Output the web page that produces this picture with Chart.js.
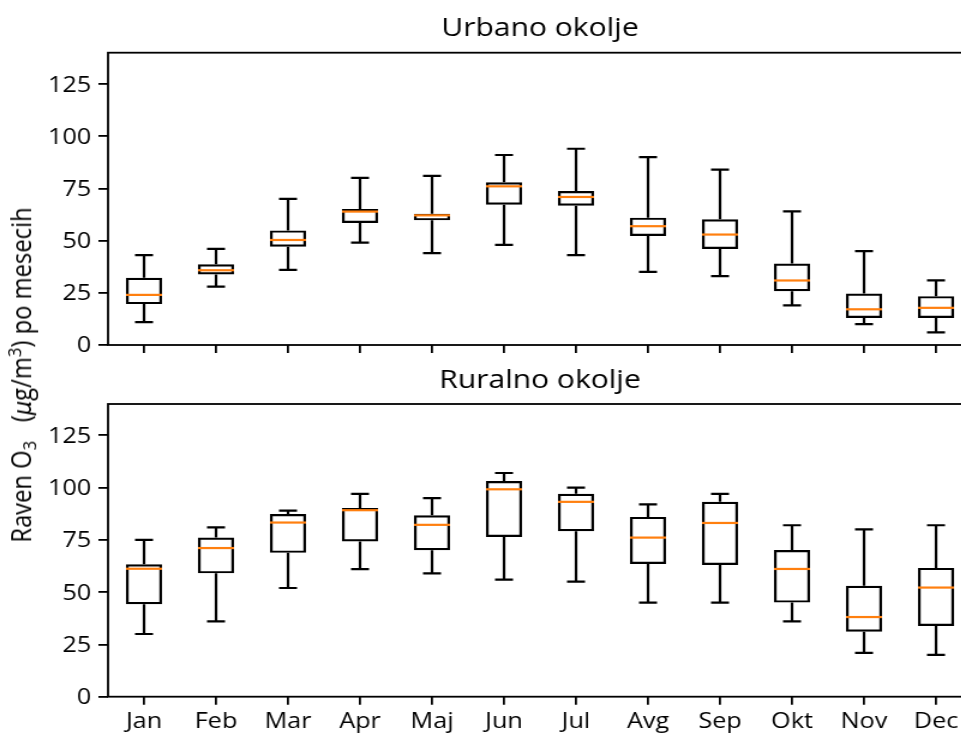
<!DOCTYPE html>
<html><head><meta charset="utf-8">
<script src="https://cdn.jsdelivr.net/npm/chart.js"></script>
<style>
html,body{margin:0;padding:0;background:#fff;overflow:hidden;width:961px;height:736px;}
#wrap{position:absolute;left:0;top:0;width:810px;height:736px;transform:scaleX(1.2);transform-origin:0 0;}
#c1{position:absolute;left:0;top:0;}
#c2{position:absolute;left:0;top:360px;}
#ylab{position:absolute;font-family:'Open Sans';font-size:22px;line-height:22px;white-space:nowrap;color:#000;
 left:18.3px;top:375px;transform:translate(-50%,-50%) rotate(-90deg) scaleX(1.08);}
#ylab sub{font-size:15.5px;line-height:0;vertical-align:-4px;}
#ylab sup{font-size:15.5px;line-height:0;vertical-align:8px;}
#ylab .mu{font-family:'DejaVu Sans';font-style:italic;font-size:21px;}
</style></head>
<body>
<div id="wrap">
<canvas id="c1" width="810" height="380"></canvas>
<canvas id="c2" width="810" height="376"></canvas>
<div id="ylab">Raven O<sub>3</sub>&nbsp;&nbsp; (<span class="mu">μ</span>g/m<sup>3</sup>) po mesecih</div>
</div>
<script>
const months = ['Jan','Feb','Mar','Apr','Maj','Jun','Jul','Avg','Sep','Okt','Nov','Dec'];
const yTicks = [0,25,50,75,100,125];

const urbMin = [11,28,36,49,44,48,43,35,33,19,10,6];
const urbQ1  = [19.6,33.8,47.1,58.4,59.7,67.2,66.7,52.2,46,25.8,12.9,12.9];
const urbMed = [24,35.8,50.3,63.9,62.1,76,70.9,56.9,52.9,30.9,17.1,17.8];
const urbQ3  = [32.2,38.7,54.9,65.1,62.9,77.9,73.7,61,60.2,39,24.7,23.4];
const urbMax = [43,46,70,80,81,91,94,90,84,64,45,31];

const rurMin = [30,36,52,61,59,56,55,45,45,36,21,20];
const rurQ1  = [44.2,59,68.8,74.2,70.1,76.4,79.1,63.5,63,45,31.1,33.8];
const rurMed = [61.2,71.1,83.3,89.2,82.2,99.2,93.2,76.1,83.1,61.1,38.1,52.2];
const rurQ3  = [63.3,76.1,87.4,90.3,86.8,103.2,97.1,86,93.2,70.2,53.1,61.6];
const rurMax = [75,81,89,97,95,107,100,92,97,82,80,82];

Chart.defaults.font.family = "'Open Sans'";
Chart.defaults.color = '#000';

function makeBoxPlugin(title, mins, q1, med, q3, maxs){
  return {
    id: 'boxWhisk',
    afterDatasetsDraw(chart){
      const {ctx, scales:{x, y}} = chart;
      const bars = chart.getDatasetMeta(0).data;
      ctx.save();
      ctx.lineCap = 'butt';
      months.forEach((m, i) => {
        const px = x.getPixelForValue(i);
        const half = bars[i].width / 2;
        const cap = half / 2;
        const yMin = y.getPixelForValue(mins[i]);
        const yMax = y.getPixelForValue(maxs[i]);
        const yQ1 = y.getPixelForValue(q1[i]);
        const yQ3 = y.getPixelForValue(q3[i]);
        const yMed = y.getPixelForValue(med[i]);
        ctx.strokeStyle = '#000';
        ctx.lineWidth = 2.2;
        ctx.beginPath();
        ctx.moveTo(px, yQ1); ctx.lineTo(px, yMin);
        ctx.moveTo(px, yQ3); ctx.lineTo(px, yMax);
        ctx.moveTo(px - cap, yMin); ctx.lineTo(px + cap, yMin);
        ctx.moveTo(px - cap, yMax); ctx.lineTo(px + cap, yMax);
        ctx.stroke();
        ctx.strokeStyle = '#ff7f0e';
        ctx.beginPath();
        ctx.moveTo(px - half, yMed); ctx.lineTo(px + half, yMed);
        ctx.stroke();
      });
      ctx.restore();
    },
    afterDraw(chart){
      const {ctx, chartArea:a} = chart;
      ctx.save();
      ctx.strokeStyle = '#000';
      ctx.lineWidth = 1.8;
      ctx.strokeRect(a.left, a.top, a.right - a.left, a.bottom - a.top);
      ctx.fillStyle = '#000';
      ctx.font = "25px 'Open Sans'";
      ctx.textAlign = 'center';
      ctx.textBaseline = 'alphabetic';
      ctx.fillText(title, (a.left + a.right) / 2, a.top - 16.5);
      ctx.restore();
    }
  };
}

function makeChart(id, title, showX, padTop, xHeight, mins, q1, med, q3, maxs){
  return new Chart(document.getElementById(id), {
    type: 'bar',
    data: {
      labels: months,
      datasets: [{
        data: q1.map((v, i) => [v, q3[i]]),
        backgroundColor: 'rgba(0,0,0,0)',
        borderColor: '#000',
        borderWidth: 2.2,
        borderSkipped: false,
        barPercentage: 0.5,
        categoryPercentage: 1
      }]
    },
    options: {
      responsive: false,
      animation: false,
      devicePixelRatio: 1,
      layout: {padding: {top: padTop, left: 0, right: 0, bottom: 0}},
      plugins: {
        legend: {display: false},
        tooltip: {enabled: false},
        title: {display: false}
      },
      scales: {
        x: {
          type: 'category',
          offset: true,
          grid: {display: true, drawOnChartArea: false, drawTicks: true, tickLength: 8, color: '#000', lineWidth: 1.8, offset: false},
          border: {display: false},
          ticks: {display: showX, font: {size: 21}, color: '#000', padding: 5, maxRotation: 0, autoSkip: false},
          afterFit: s => { s.height = xHeight; }
        },
        y: {
          min: 0, max: 140,
          grid: {display: true, drawOnChartArea: false, drawTicks: true, tickLength: 8, color: '#000', lineWidth: 1.8},
          border: {display: false},
          ticks: {font: {size: 21}, color: '#000', padding: 6, labelOffset: 1.5},
          afterBuildTicks: s => { s.ticks = yTicks.map(v => ({value: v})); },
          afterFit: s => { s.width = 90; }
        }
      }
    },
    plugins: [makeBoxPlugin(title, mins, q1, med, q3, maxs)]
  });
}

makeChart('c1', 'Urbano okolje', false, 52.7, 35, urbMin, urbQ1, urbMed, urbQ3, urbMax);
makeChart('c2', 'Ruralno okolje', true, 44, 39.3, rurMin, rurQ1, rurMed, rurQ3, rurMax);
</script>
</body></html>
